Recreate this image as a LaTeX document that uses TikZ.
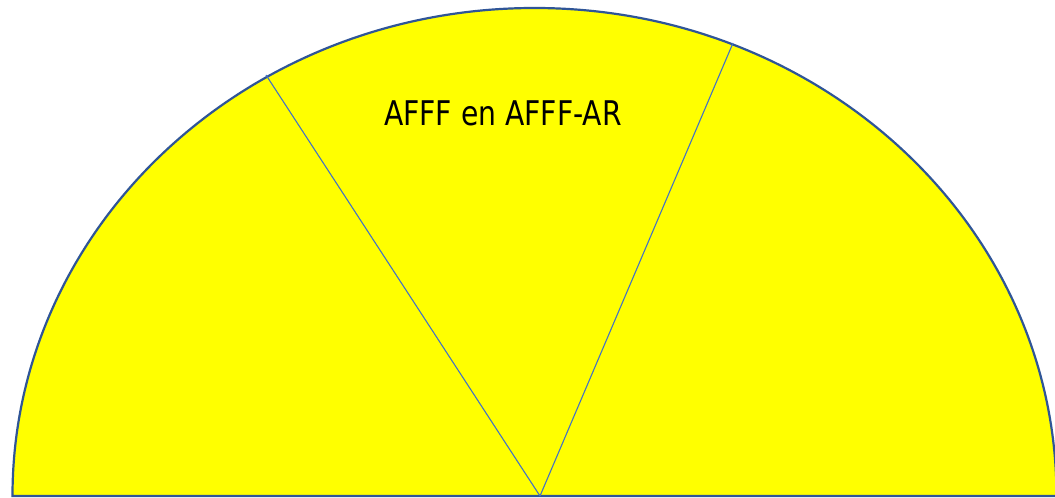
\documentclass[tikz,border=0pt]{standalone}
\usepackage{fontspec}
\newfontfamily\labelfont[FakeStretch=0.83]{DejaVu Sans}
\definecolor{rimblue}{HTML}{2F5597}
\definecolor{spokeblue}{HTML}{4472C4}
\definecolor{foamyellow}{HTML}{FFFF00}
\begin{document}
\begin{tikzpicture}[x=1pt,y=1pt]
		\useasboundingbox (0,0) rectangle (1055,498);
		\coordinate (o) at (540,2);
		\fill[foamyellow] (12.5,2) arc (180:0:522 and 488) -- cycle;
		\draw[rimblue, line width=2.2pt] (12.5,2) arc (180:0:522 and 488) -- cycle;
		\coordinate (l) at (266,423);
		\coordinate (r) at (733,455);
		\draw[spokeblue, line width=1.1pt] (o) -- (l);
		\draw[spokeblue, line width=1.1pt] (o) -- (r);
		\node[font=\labelfont\fontsize{34}{40}\selectfont, inner sep=0pt] (afff) at (503,385) {AFFF en AFFF-AR};
	\end{tikzpicture}
\end{document}
